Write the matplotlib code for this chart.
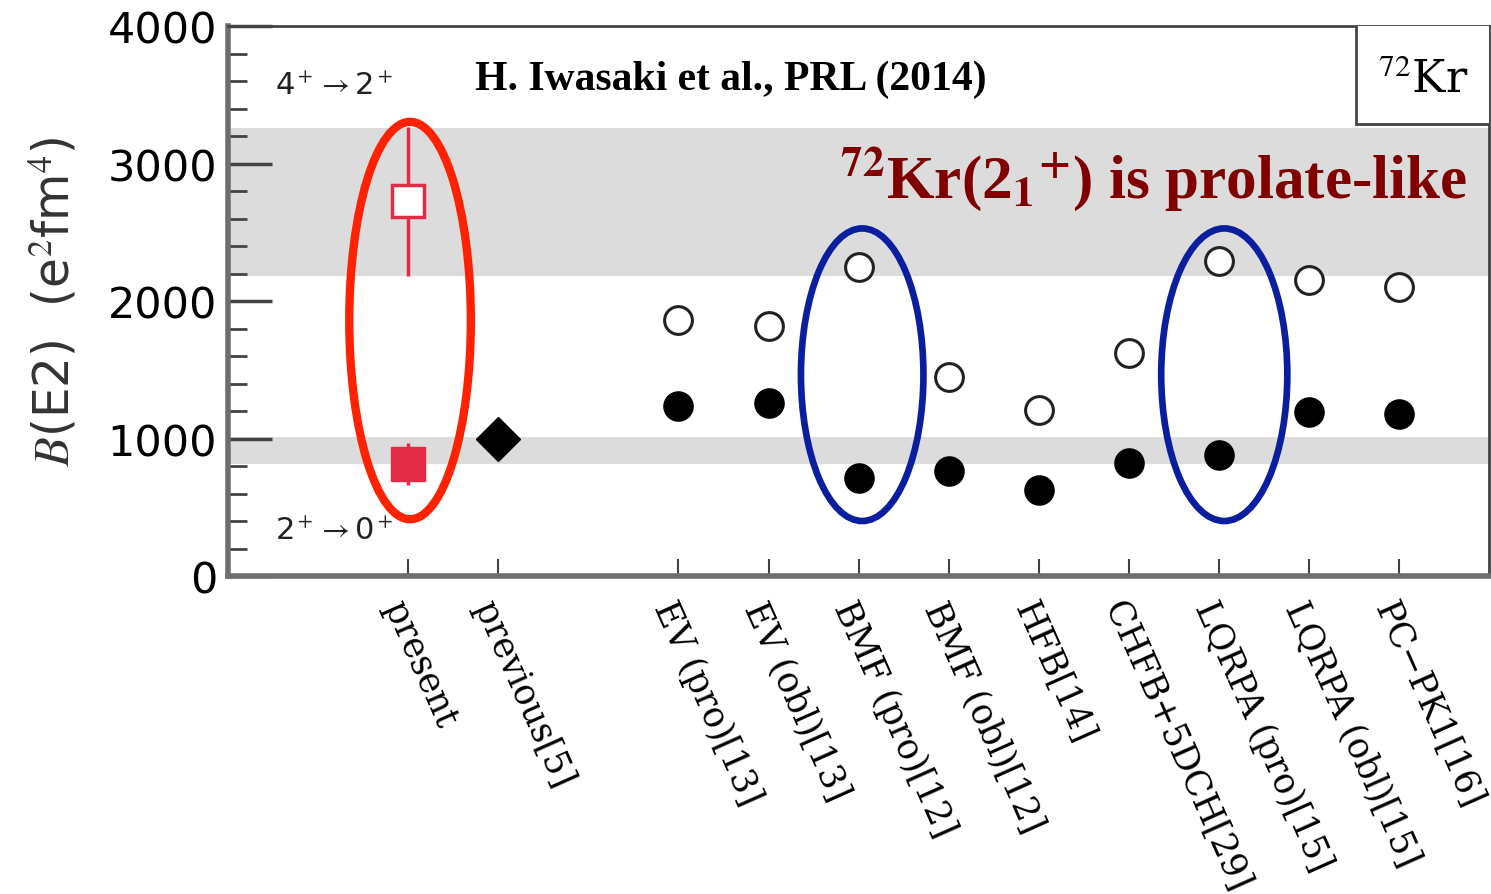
"""
B(E2) of 72Kr: present result vs previous data and theory
"""

import matplotlib.pyplot as plt
from matplotlib.patches import Ellipse, Rectangle
from matplotlib.ticker import MultipleLocator

plt.rcParams["mathtext.fontset"] = "stix"

# categories on the x axis (gap between previous and the theories)
labels = [
    "present", "previous[5]", "EV (pro)[13]", "EV (obl)[13]", "BMF (pro)[12]",
    "BMF (obl)[12]", "HFB[14]", "CHFB+5DCH[29]", "LQRPA (pro)[15]",
    "LQRPA (obl)[15]", "PC\u2212PK1[16]",
]
positions = [0, 1, 3, 4, 5, 6, 7, 8, 9, 10, 11]

# theory values (4+ -> 2+ open, 2+ -> 0+ filled)
theory_x = [3, 4, 5, 6, 7, 8, 9, 10, 11]
theory_b42 = [1865, 1815, 2245, 1450, 1205, 1625, 2290, 2150, 2100]
theory_b20 = [1240, 1260, 715, 765, 625, 820, 880, 1190, 1175]

# experiment
present_b42, present_b42_err = 2725, 540
present_b20, present_b20_err = 815, 150
previous_b20 = 1000

# shaded bands
band_b42 = [2180, 3255]
band_b20 = [815, 1010]

# highlight ellipses: (x, y, width, height)
red_ellipse = (0.02, 1858, 1.35, 2890)
blue_ellipses = [(5.04, 1464, 1.36, 2128), (9.06, 1464, 1.40, 2128)]

fig = plt.figure(figsize=(14.91, 8.95), dpi=100)
ax = fig.add_axes([0.153, 0.3553, 0.8457, 0.6145])

ax.axhspan(band_b42[0], band_b42[1], color="#dcdcdc", zorder=0, lw=0)
ax.axhspan(band_b20[0], band_b20[1], color="#dcdcdc", zorder=0, lw=0)

red = "#e22b45"
ax.errorbar([positions[0]], [present_b42], yerr=present_b42_err, fmt="s",
            ms=23, mfc="white", mec=red, mew=2.5, ecolor=red, elinewidth=2.5,
            capsize=0, zorder=3)
ax.errorbar([positions[0]], [present_b20], yerr=present_b20_err, fmt="s",
            ms=25, mfc=red, mec=red, ecolor=red, elinewidth=2.5, capsize=0,
            zorder=3)
ax.plot([positions[1]], [previous_b20], "D", ms=22, color="black", zorder=3)

ax.plot(theory_x, theory_b42, "o", ms=20, mfc="white", mec="#222222", mew=2.2,
        ls="none", zorder=3)
ax.plot(theory_x, theory_b20, "o", ms=21, color="black", ls="none", zorder=3)

ax.add_patch(Ellipse(red_ellipse[:2], red_ellipse[2], red_ellipse[3],
                     fill=False, ec="#ff2200", lw=6, zorder=4, clip_on=False))
for ex, ey, ew, eh in blue_ellipses:
    ax.add_patch(Ellipse((ex, ey), ew, eh, fill=False, ec="#0a1ea0", lw=4.8,
                         zorder=4, clip_on=False))

ax.set_xlim(-2, 12)
ax.set_ylim(0, 4000)

ax.set_xticks(positions)
ax.set_xticklabels(labels, rotation=-66, ha="left", va="top",
                   rotation_mode="anchor", fontsize=25)
for t in ax.get_xticklabels():
    t.set_fontfamily(["DejaVu Serif"])
ax.tick_params(axis="x", direction="in", length=12, width=1.5, pad=14,
               color="#444444")
ax.yaxis.set_major_locator(MultipleLocator(1000))
ax.yaxis.set_minor_locator(MultipleLocator(200))
ax.tick_params(axis="y", which="major", direction="in", length=32, width=2.5,
               labelsize=31, pad=8, color="#444444")
ax.tick_params(axis="y", which="minor", direction="in", length=14, width=2,
               color="#444444")

for side in ["left", "bottom"]:
    ax.spines[side].set_linewidth(4)
    ax.spines[side].set_color("#6e6e6e")
for side in ["top", "right"]:
    ax.spines[side].set_linewidth(2)
    ax.spines[side].set_color("#444444")

ax.set_ylabel(r"$B$(E2)  (e$^2$fm$^4$)", fontsize=35, labelpad=20,
              color="#333333")

ax.text(-1.48, 3565, r"4$^+$$\rightarrow$2$^+$", fontsize=22, ha="left",
        va="center", color="#222222")
ax.text(-1.48, 330, r"2$^+$$\rightarrow$0$^+$", fontsize=22, ha="left",
        va="center", color="#222222")

ax.text(0.74, 3620, "H. Iwasaki et al., PRL (2014)", fontsize=30,
        family="Liberation Serif", weight="bold", ha="left", va="center")
ax.text(11.75, 2890,
        r"$^{\mathbf{72}}$Kr(2$_{\mathbf{1}}$$^{\mathbf{+}}$) is prolate-like",
        fontsize=44, family="Liberation Serif", weight="bold", color="#800000",
        ha="right", va="center", zorder=5)

ax.add_patch(Rectangle((0.8945, 0.822), 0.11, 0.2, transform=ax.transAxes,
                       fill=True, fc="white", ec="#444444", lw=2, zorder=5))
ax.text(0.948, 0.905, r"$^{72}$Kr", transform=ax.transAxes, fontsize=32,
        family="DejaVu Serif", ha="center", va="center", zorder=6)

fig.savefig("out.png", dpi=100)
